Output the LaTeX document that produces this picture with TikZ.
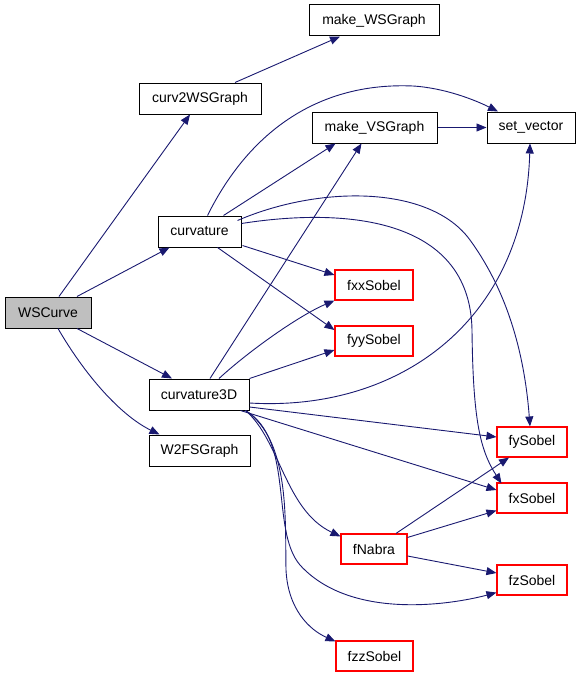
\documentclass[tikz,border=0pt]{standalone}
\usepackage{fontspec}
\setmainfont{Liberation Sans}
\usetikzlibrary{arrows.meta}
\definecolor{edgec}{RGB}{25,25,112}
\definecolor{grayfill}{RGB}{191,191,191}
\definecolor{boxred}{RGB}{255,0,0}
\tikzset{
  blk/.style={draw=black, line width=1pt, minimum height=31pt, inner sep=0pt, font=\fontsize{14}{16}\selectfont},
  redblk/.style={draw=boxred, line width=1.1pt, minimum height=30pt, inner sep=0pt, font=\fontsize{14}{16}\selectfont},
  edge/.style={draw=edgec, line width=0.9pt, -{Triangle[length=10pt,width=8pt]}}
}
\begin{document}
\begin{tikzpicture}[x=1pt,y=-1pt]
\useasboundingbox (0,0) rectangle (581,677);
% nodes
\node[blk, fill=grayfill, minimum width=86pt] (ws) at (48,312.5) {WSCurve};
\node[blk, minimum width=122pt] (c2) at (200,98.5) {curv2WSGraph};
\node[blk, minimum width=130pt] (mws) at (374,20.5) {make\_WSGraph};
\node[blk, minimum width=125pt] (mvs) at (374.5,127.5) {make\_VSGraph};
\node[blk, minimum width=88pt] (sv) at (531,127.5) {set\_vector};
\node[blk, minimum width=83pt] (cv) at (199.5,231.5) {curvature};
\node[blk, minimum width=100pt] (c3) at (199,394.5) {curvature3D};
\node[blk, minimum width=101pt] (w2) at (199.5,450.5) {W2FSGraph};
\node[redblk, minimum width=78pt] (fxx) at (374,285) {fxxSobel};
\node[redblk, minimum width=78pt] (fyy) at (374,341) {fyySobel};
\node[redblk, minimum width=70pt] (ysob) at (532,442) {fySobel};
\node[redblk, minimum width=70pt] (xsob) at (532,498) {fxSobel};
\node[redblk, minimum width=66pt] (fn) at (374,549) {fNabra};
\node[redblk, minimum width=70pt] (zsob) at (532,580) {fzSobel};
\node[redblk, minimum width=77pt] (fzz) at (374.5,656) {fzzSobel};
% edges from WSCurve
\draw[edge] ([shift={(11,0)}]ws.north) -- ([shift={(-10,0)}]c2.south);
\draw[edge] ([shift={(29,0)}]ws.north) -- ([shift={(-30,0)}]cv.south);
\draw[edge] ([shift={(29,0)}]ws.south) -- ([shift={(-27,0)}]c3.north);
\draw[edge] ([shift={(10,0)}]ws.south) .. controls (85,375) and (120,415) .. ([shift={(-40,0)}]w2.north);
% curv2WSGraph
\draw[edge] ([shift={(35,0)}]c2.north) -- ([shift={(-34,0)}]mws.south);
% make_VSGraph
\draw[edge] (mvs.east) -- (sv.west);
% curvature
\draw[edge] ([shift={(8,0)}]cv.north) .. controls (250,130) and (320,82) .. (413,86) .. controls (445,88) and (475,100) .. ([shift={(-33,0)}]sv.north);
\draw[edge] ([shift={(24,0)}]cv.north) -- ([shift={(-39,0)}]mvs.south);
\draw[edge] ([shift={(-4,5)}]cv.north east) .. controls (320,185) and (430,185) .. (470,240) .. controls (510,295) and (525,360) .. ([shift={(-2,0)}]ysob.north);
\draw[edge] ([shift={(0,-8)}]cv.east) .. controls (340,208) and (470,215) .. (472,330) .. controls (473,420) and (480,450) .. ([shift={(5,1)}]xsob.north west);
\draw[edge] ([shift={(1,-2)}]cv.south east) -- ([shift={(0,-10)}]fxx.west);
\draw[edge] ([shift={(18,0)}]cv.south) -- ([shift={(0,-11)}]fyy.west);
% curvature3D
\draw[edge] ([shift={(11,0)}]c3.north) -- ([shift={(-13,0)}]mvs.south);
\draw[edge] ([shift={(20,0)}]c3.north) .. controls (250,350) and (300,315) .. (fxx.south west);
\draw[edge] (c3.north east) -- ([shift={(0,9)}]fyy.west);
\draw[edge] ([shift={(0,8.5)}]c3.east) .. controls (400,412) and (525,320) .. ([shift={(-1,0)}]sv.south);
\draw[edge] ([shift={(0,12.5)}]c3.east) -- ([shift={(0,-5)}]ysob.west);
\draw[edge] ([shift={(-9,0)}]c3.south east) -- ([shift={(0,-8)}]xsob.west);
\draw[edge] ([shift={(-4,0)}]c3.south east) .. controls (280,440) and (285,510) .. ([shift={(0,3)}]fn.north west);
\draw[edge] ([shift={(-4,0)}]c3.south east) .. controls (295,440) and (270,530) .. (300,565) .. controls (350,620) and (450,605) .. ([shift={(0,-3)}]zsob.south west);
\draw[edge] ([shift={(-4,0)}]c3.south east) .. controls (290,440) and (285,520) .. (286,570) .. controls (288,610) and (310,630) .. ([shift={(0,1)}]fzz.north west);
% fNabra
\draw[edge] ([shift={(22,0)}]fn.north) -- ([shift={(-23,0)}]ysob.south);
\draw[edge] ([shift={(0,4)}]fn.north east) -- ([shift={(0,-3)}]xsob.south west);
\draw[edge] ([shift={(0,7)}]fn.east) -- ([shift={(0,-7)}]zsob.west);
\end{tikzpicture}
\end{document}
